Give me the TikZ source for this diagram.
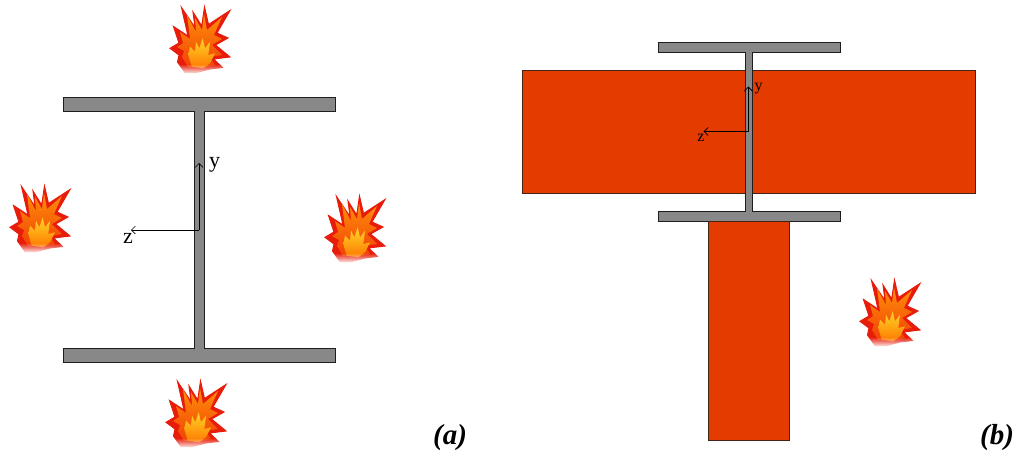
\documentclass[tikz,border=0pt]{standalone}
\usepackage{fontspec}
\setmainfont{Liberation Serif}
\usetikzlibrary{arrows.meta,fadings}

\definecolor{steel}{RGB}{136,136,136}
\definecolor{edge}{RGB}{30,30,30}
\definecolor{slab}{RGB}{227,59,0}
\definecolor{flamered}{RGB}{232,28,10}
\definecolor{flameorange}{RGB}{255,120,0}
\definecolor{flameyellow}{RGB}{255,214,40}

\tikzset{
  steelpart/.style={fill=steel, draw=edge, line width=0.9pt, line join=miter},
  concrete/.style={fill=slab, draw=edge!80!slab, line width=0.9pt},
  axisline/.style={draw=black, line width=0.6pt, -{Straight Barb[length=4pt,width=8pt]}},
  axislabel/.style={inner sep=0pt, anchor=base},
  caption/.style={inner sep=0pt, anchor=base, font=\fontsize{29}{30}\selectfont\bfseries\itshape},
  % fire icon, drawn in a local 80 x 70 box
  flame/.pic={
    \path[fill=flamered, draw=flamered, line width=1pt, line join=miter]
      (25,67.5) -- (17.5,57) -- (19,50) -- (10,43.3) -- (19,38) -- (13.5,21.5)
      -- (28,31) -- (21.5,2.5) -- (35,22.5) -- (33,7) -- (41.7,21) -- (44.5,2)
      -- (48.5,19.5) -- (70,5.5) -- (57,28) -- (68,33) -- (55.5,40) -- (70,52)
      -- (53.5,54) -- (62.5,62.5) -- (50,64) -- (36.7,67.5) -- cycle;
    \path[top color=flameorange!75!flameyellow, bottom color=flameorange!40!flamered]
      (28,62) -- (22,52) -- (24,46) -- (17,42) -- (23,38) -- (20,27) -- (30,34)
      -- (27,10) -- (36,27) -- (35,13) -- (42,25) -- (44,9) -- (47,25) -- (62,12)
      -- (54,30) -- (62,34) -- (52,40) -- (62,50) -- (50,52) -- (55,60) -- (45,62) -- cycle;
    \path[top color=flameyellow, bottom color=flameorange]
      (31.7,61.7) -- (28.3,50) -- (30,41.7) -- (35,46.7) -- (36,36.7) -- (39.3,43.3)
      -- (42.7,33.3) -- (45,43.3) -- (50,36.7) -- (48.3,50) -- (55,48.3) -- (50,58.3)
      -- (43.3,63.3) -- cycle;
    \fill[white, path fading=north] (6,59) rectangle (75,69.5);
  }
}

\begin{document}
\begin{tikzpicture}[x=1pt, y=-1pt]
\useasboundingbox (0,0) rectangle (1015,455);

% ---------- (a) steel I-section exposed on all sides ----------
\draw[steelpart]
  (63,97) -- (335,97) -- (335,111.5) -- (204.5,111.5) -- (204.5,348.5)
  -- (335,348.5) -- (335,362) -- (63,362) -- (63,348.5) -- (194,348.5)
  -- (194,111.5) -- (63,111.5) -- cycle;

\coordinate (oa) at (199,230);
\coordinate (ya) at (199,163);
\coordinate (za) at (131,230);
\draw[axisline] (oa) -- (ya);
\draw[axisline] (oa) -- (za);
\node[axislabel, font=\fontsize{22}{24}\selectfont] (lya) at (214.5,167) {y};
\node[axislabel, font=\fontsize{22}{24}\selectfont] (lza) at (128,243) {z};

\pic at (160,5) {flame};
\pic at (0,184) {flame};
\pic at (315,194) {flame};
\pic at (156,379) {flame};

\node[caption] (capa) at (450,444) {(a)};

% ---------- (b) I-section with slab on top and wall below ----------
\draw[concrete] (522.5,70.5) rectangle (975.5,193.5);
\draw[steelpart]
  (658,42.5) -- (840,42.5) -- (840,52.3) -- (752.3,52.3) -- (752.3,211.5)
  -- (840,211.5) -- (840,221.3) -- (658,221.3) -- (658,211.5) -- (745.7,211.5)
  -- (745.7,52.3) -- (658,52.3) -- cycle;
\draw[concrete] (708.3,221.3) rectangle (789.7,440.7);

\coordinate (ob) at (748.3,131.5);
\coordinate (yb) at (748.3,86.5);
\coordinate (zb) at (703.5,131.5);
\draw[axisline, line width=0.8pt] (ob) -- (yb);
\draw[axisline, line width=0.8pt] (ob) -- (zb);
\node[axislabel, font=\fontsize{16}{18}\selectfont] (lyb) at (758.5,90.5) {y};
\node[axislabel, font=\fontsize{16}{18}\selectfont] (lzb) at (701,141.5) {z};

\pic at (850,278) {flame};

\node[caption] (capb) at (997,444) {(b)};
\end{tikzpicture}
\end{document}
